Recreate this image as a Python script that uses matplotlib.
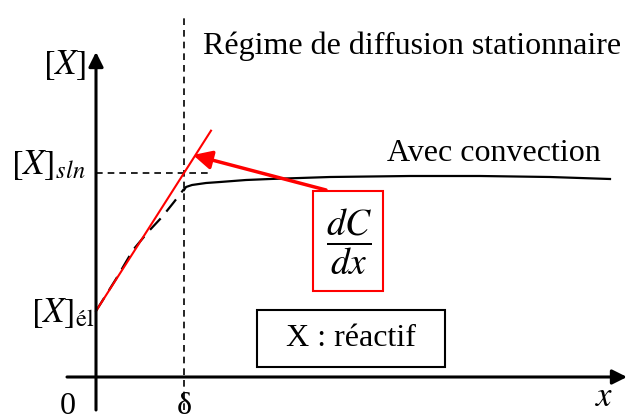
import matplotlib.pyplot as plt
from matplotlib.patches import Rectangle

plt.rcParams['font.family'] = ['Liberation Serif', 'DejaVu Serif']
plt.rcParams['mathtext.fontset'] = 'stix'

# levels of the concentration profile (schematic units)
x_el = 66      # [X] at the electrode
x_sln = 204    # [X] in the bulk solution
delta = 88     # thickness of the diffusion layer

# concentration profile with convection
dashed_x = [0, 20, 37, 52, 66, 78, 88]
dashed_y = [66, 98, 127, 145, 160, 175, 188]
solid_x = [88, 90, 96, 110, 124, 150, 174, 234, 314, 384, 454, 514]
solid_y = [187, 190, 192, 194, 195, 197, 198, 200, 201, 201, 200, 198]

slope = (x_sln - x_el) / delta
tan_x = [0, 115]
tan_y = [x_el + slope * t for t in tan_x]

fig = plt.figure(figsize=(6.27, 4.17), dpi=100)
ax = fig.add_axes([0, 0, 1, 1])
ax.set_xlim(-96, 531)
ax.set_ylim(-40, 377)
ax.axis('off')

# axes with arrows
arrow_kw = dict(arrowstyle='-|>', color='black', lw=2.2, mutation_scale=22, shrinkA=0, shrinkB=0)
ax.annotate('', xy=(0, 325), xytext=(0, -33), arrowprops=arrow_kw)
ax.annotate('', xy=(531, 0), xytext=(-29, 0), arrowprops=arrow_kw)

# guides at delta and [X]sln
ax.plot([delta, delta], [-33, 362], color='black', lw=1.2, ls=(0, (4, 3)))
ax.plot([0, 116], [x_sln, x_sln], color='black', lw=1.2, ls=(0, (4, 3)))

# profile
ax.plot(dashed_x, dashed_y, color='black', lw=1.6, ls=(0, (7, 4)))
ax.plot(solid_x, solid_y, color='black', lw=1.6)

# tangent at the electrode
ax.plot(tan_x, tan_y, color='red', lw=1.5)

# slope box and arrow
ax.add_patch(Rectangle((217, 86), 70, 100, fill=False, edgecolor='red', lw=1.5))
ax.text(253, 135, r'$\dfrac{dC}{dx}$', fontsize=27, ha='center', va='center')
ax.annotate('', xy=(97, 222), xytext=(230, 187),
            arrowprops=dict(arrowstyle='-|>', color='red', lw=2.5, mutation_scale=28,
                            shrinkA=0, shrinkB=0))

# legend box
ax.add_patch(Rectangle((161, 10), 188, 57, fill=False, edgecolor='black', lw=1.5))
ax.text(255, 39, 'X : réactif', fontsize=23, ha='center', va='center')

# labels
ax.text(107, 331, 'Régime de diffusion stationnaire', fontsize=23, ha='left', va='center')
ax.text(291, 224, 'Avec convection', fontsize=23, ha='left', va='center')
ax.text(-31, 312, r'$[X]$', fontsize=25, ha='center', va='center')
ax.text(-10, 212, r'$[X]_{sln}$', fontsize=25, ha='right', va='center')
ax.text(-1, 64, r'$[X]_{\mathrm{él}}$', fontsize=25, ha='right', va='center')
ax.text(-28, -29, '0', fontsize=23, ha='center', va='center')
ax.text(delta, -29, 'δ', fontsize=23, ha='center', va='center')
ax.text(508, -21, r'$x$', fontsize=25, ha='center', va='center')

fig.savefig('out.png', dpi=100)
